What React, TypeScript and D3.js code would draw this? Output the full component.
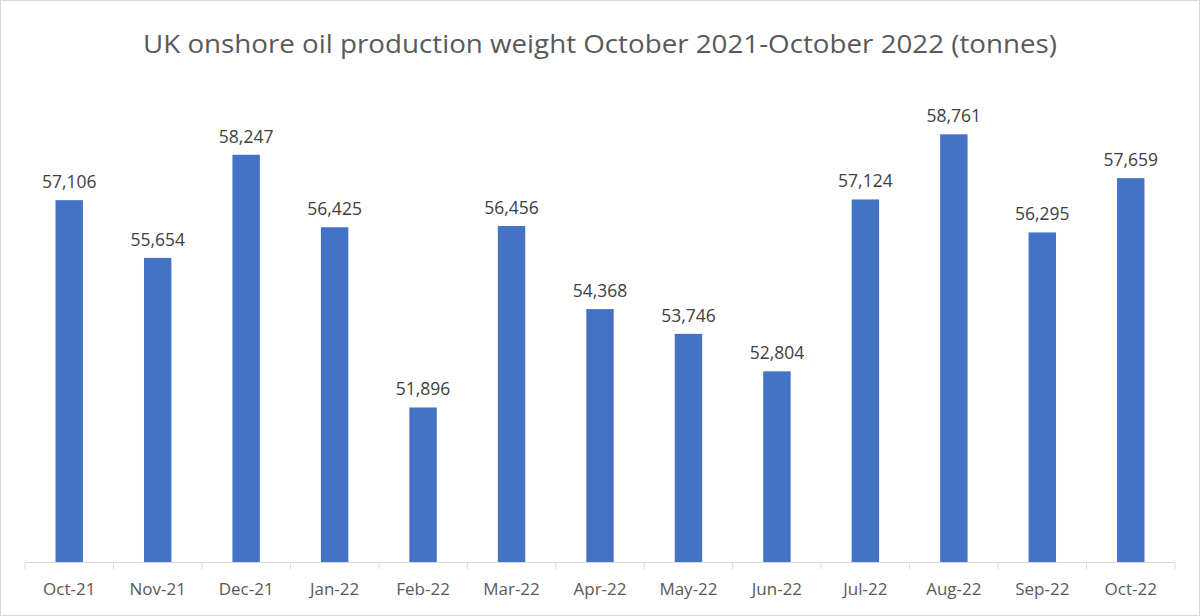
import React from "react";
import * as d3 from "d3";

const categories = ["Oct-21","Nov-21","Dec-21","Jan-22","Feb-22","Mar-22","Apr-22","May-22","Jun-22","Jul-22","Aug-22","Sep-22","Oct-22"];
const values = [57106,55654,58247,56425,51896,56456,54368,53746,52804,57124,58761,56295,57659];
const yDomain = [48000, 60000];
const title = "UK onshore oil production weight October 2021-October 2022 (tonnes)";

const W = 1200, H = 616;
const font = "'Open Sans', 'Noto Sans', sans-serif";

export default function App() {
  const x = d3.scaleBand().domain(categories).range([25, 1175]).paddingInner(0.69).paddingOuter(0.345);
  const y = d3.scaleLinear().domain(yDomain).range([562.5, 85]);
  const fmt = d3.format(",");
  const step = x.step();
  const x0 = 25;
  return (
    <div style={{ position: "absolute", left: 0, top: 0 }}>
      <svg width={W} height={H} style={{ display: "block" }}>
        <rect x={0.5} y={0.5} width={W - 1} height={H - 1} fill="#fff" stroke="#d9d9d9" />
        <text x={600} y={53} textAnchor="middle" fontFamily={font} fontSize={25} fill="#595959" textLength={914} lengthAdjust="spacingAndGlyphs">{title}</text>
        {categories.map((c, i) => (
          <g key={c}>
            <rect x={x(c)} y={y(values[i])} width={x.bandwidth()} height={y(yDomain[0]) - y(values[i])} fill="#4472c4" />
            <text x={x(c)! + x.bandwidth() / 2} y={y(values[i]) - 12} textAnchor="middle" fontFamily={font} fontSize={17.5} fill="#404040">{fmt(values[i])}</text>
            <text x={x(c)! + x.bandwidth() / 2} y={595} textAnchor="middle" fontFamily={font} fontSize={17} fill="#595959">{c}</text>
          </g>
        ))}
        <line x1={25} x2={1175} y1={562.5} y2={562.5} stroke="#d9d9d9" />
        {d3.range(categories.length + 1).map(i => (
          <line key={i} x1={x0 + i * step} x2={x0 + i * step} y1={562.5} y2={569} stroke="#d9d9d9" />
        ))}
      </svg>
    </div>
  );
}
